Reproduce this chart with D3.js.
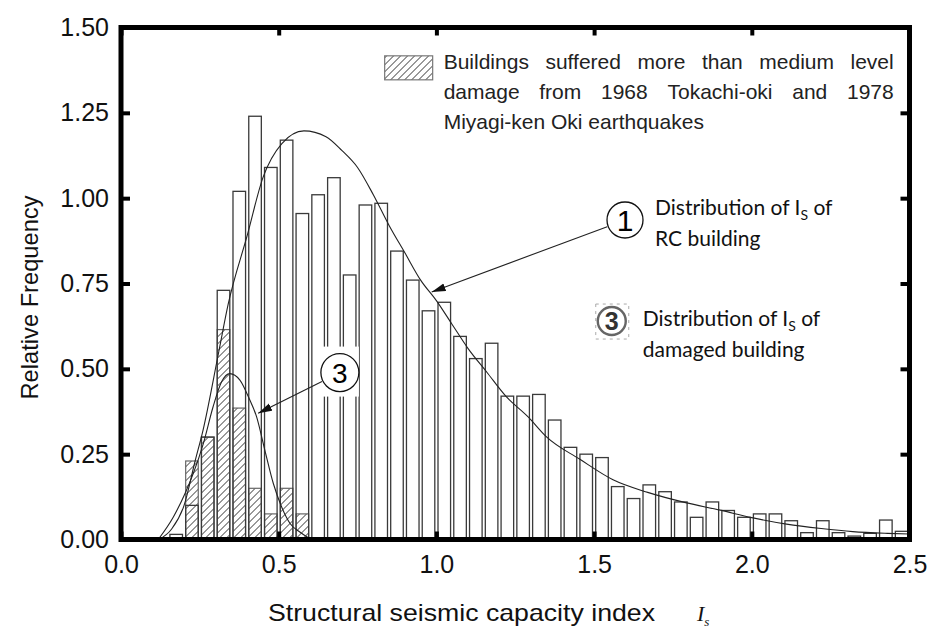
<!DOCTYPE html>
<html>
<head>
<meta charset="utf-8">
<script src="https://cdn.jsdelivr.net/npm/d3@7"></script>
<style>
  body { margin: 0; background: #fff; }
  svg { display: block; }
</style>
</head>
<body>
<svg id="chart" width="932" height="637"></svg>
<script>
// ---- data ----
// left edge of every 0.05-wide bin
var binStart = [0.15, 0.20, 0.25, 0.30, 0.35, 0.40, 0.45, 0.50, 0.55, 0.60,
                0.65, 0.70, 0.75, 0.80, 0.85, 0.90, 0.95, 1.00, 1.05, 1.10,
                1.15, 1.20, 1.25, 1.30, 1.35, 1.40, 1.45, 1.50, 1.55, 1.60,
                1.65, 1.70, 1.75, 1.80, 1.85, 1.90, 1.95, 2.00, 2.05, 2.10,
                2.15, 2.20, 2.25, 2.30, 2.35, 2.40, 2.45];
// relative frequency, all RC buildings (open bars)
var allFreq = [0.015, 0.10, 0.30, 0.73, 1.02, 1.24, 1.09, 1.17, 0.955, 1.01,
               1.06, 0.775, 0.98, 0.985, 0.845, 0.76, 0.67, 0.695, 0.595, 0.53,
               0.575, 0.42, 0.42, 0.425, 0.35, 0.27, 0.25, 0.24, 0.155, 0.12,
               0.16, 0.14, 0.11, 0.065, 0.11, 0.085, 0.065, 0.075, 0.075, 0.055,
               0.02, 0.055, 0.02, 0.01, 0.018, 0.057, 0.024];
// damaged buildings (hatched bars)
var damagedBins = [0.20, 0.25, 0.30, 0.35, 0.40, 0.45, 0.50, 0.55];
var damagedFreq = [0.23, 0.30, 0.615, 0.385, 0.15, 0.075, 0.15, 0.075];

// fitted curve 1 (RC buildings) and curve 3 (damaged buildings)
var curveRC = [[0.12, 0.0], [0.16, 0.03], [0.20, 0.10], [0.235, 0.23], [0.26, 0.32],
               [0.31, 0.55], [0.34, 0.69], [0.40, 0.89], [0.45, 1.06], [0.51, 1.16],
               [0.58, 1.197], [0.65, 1.18], [0.70, 1.14], [0.75, 1.09], [0.80, 1.01],
               [0.85, 0.92], [0.90, 0.84], [0.95, 0.76], [1.00, 0.70], [1.05, 0.63],
               [1.10, 0.56], [1.16, 0.49], [1.22, 0.42], [1.29, 0.36], [1.35, 0.30],
               [1.455, 0.235], [1.56, 0.175], [1.67, 0.138], [1.79, 0.108], [1.90, 0.086],
               [2.00, 0.064], [2.11, 0.045], [2.22, 0.032], [2.32, 0.023], [2.43, 0.018],
               [2.5, 0.016]];
var curveDamaged = [[0.118, 0.0], [0.166, 0.066], [0.203, 0.135], [0.229, 0.193],
                    [0.261, 0.281], [0.292, 0.389], [0.319, 0.462], [0.345, 0.486],
                    [0.377, 0.467], [0.404, 0.418], [0.43, 0.359], [0.456, 0.262],
                    [0.483, 0.164], [0.509, 0.096], [0.536, 0.047], [0.567, 0.022],
                    [0.594, 0.005]];

var xTicks = [0, 0.5, 1.0, 1.5, 2.0, 2.5];
var yTicks = [0, 0.25, 0.5, 0.75, 1.0, 1.25, 1.5];
var binWidth = 0.05;

var legendLines = ["Buildings suffered more than medium level",
                   "damage from 1968 Tokachi-oki and 1978",
                   "Miyagi-ken Oki earthquakes"];

// ---- layout ----
var margin = {top: 27.5, right: 22.5, bottom: 97.5, left: 121},
    width = 932 - margin.left - margin.right,
    height = 637 - margin.top - margin.bottom;

var svgRoot = d3.select("#chart");

var defs = svgRoot.append("defs");
defs.append("pattern")
    .attr("id", "hatch")
    .attr("patternUnits", "userSpaceOnUse")
    .attr("width", 7).attr("height", 7)
  .call(p => {
    p.append("rect").attr("width", 7).attr("height", 7).attr("fill", "#fff");
    p.append("path")
      .attr("d", "M-1,1 L1,-1 M0,7 L7,0 M6,8 L8,6")
      .attr("stroke", "#333").attr("stroke-width", 1);
  });
defs.append("marker")
    .attr("id", "arrow")
    .attr("markerUnits", "userSpaceOnUse")
    .attr("markerWidth", 16).attr("markerHeight", 10)
    .attr("refX", 14).attr("refY", 4)
    .attr("orient", "auto")
  .append("path")
    .attr("d", "M0,0 L14,4 L0,8 Z")
    .attr("fill", "#111");

var svg = svgRoot.append("g")
    .attr("transform", "translate(" + margin.left + "," + margin.top + ")");

var x = d3.scaleLinear().domain([0, 2.5]).range([0, width]);
var y = d3.scaleLinear().domain([0, 1.5]).range([height, 0]);
var inset = 1.6; // gap on each side of a bar

// hatched bars (damaged buildings)
svg.selectAll("rect.damaged")
  .data(damagedBins.map((b, i) => ({b: b, v: damagedFreq[i]})))
  .enter().append("rect")
    .attr("class", "damaged")
    .attr("x", d => x(d.b) + inset)
    .attr("width", d => x(d.b + binWidth) - x(d.b) - 2 * inset)
    .attr("y", d => y(d.v))
    .attr("height", d => y(0) - y(d.v))
    .attr("fill", "url(#hatch)")
    .attr("stroke", "#666").attr("stroke-width", 1.2);

// open bars (all buildings)
svg.selectAll("rect.all")
  .data(binStart.map((b, i) => ({b: b, v: allFreq[i]})))
  .enter().append("rect")
    .attr("class", "all")
    .attr("x", d => x(d.b) + inset)
    .attr("width", d => x(d.b + binWidth) - x(d.b) - 2 * inset)
    .attr("y", d => y(d.v))
    .attr("height", d => y(0) - y(d.v))
    .attr("fill", "none")
    .attr("stroke", "#3a3a3a").attr("stroke-width", 1.3);

// fitted curves
var line = d3.line()
    .x(d => x(d[0]))
    .y(d => y(d[1]))
    .curve(d3.curveMonotoneX);
[curveRC, curveDamaged].forEach(c => {
  svg.append("path")
    .attr("d", line(c))
    .attr("fill", "none")
    .attr("stroke", "#222")
    .attr("stroke-width", 1.1);
});

// circled label 3 inside the plot, with the white gap behind it
var c3 = {x: x(0.694), y: y(0.489)};
svg.append("rect")
    .attr("x", c3.x - 19).attr("y", c3.y - 26)
    .attr("width", 38).attr("height", 50)
    .attr("fill", "#fff");
svg.append("circle")
    .attr("cx", c3.x).attr("cy", c3.y).attr("r", 19)
    .attr("fill", "#fff").attr("stroke", "#111").attr("stroke-width", 1.3);
svg.append("text")
    .attr("x", c3.x).attr("y", c3.y + 10)
    .attr("text-anchor", "middle")
    .style("font", "28px 'Liberation Sans', Arial, sans-serif")
    .text("3");

function arrowFrom(cx, cy, r, tx, ty) {
  var dx = tx - cx, dy = ty - cy, len = Math.sqrt(dx * dx + dy * dy);
  svg.append("line")
    .attr("x1", cx + dx / len * (r + 1)).attr("y1", cy + dy / len * (r + 1))
    .attr("x2", tx).attr("y2", ty)
    .attr("stroke", "#222").attr("stroke-width", 1.1)
    .attr("marker-end", "url(#arrow)");
}
arrowFrom(c3.x, c3.y, 19, x(0.435), y(0.370));

// circled label 1 with its note
var c1 = {x: x(1.598), y: y(0.936)};
svg.append("circle")
    .attr("cx", c1.x).attr("cy", c1.y).attr("r", 18)
    .attr("fill", "#fff").attr("stroke", "#111").attr("stroke-width", 1.3);
svg.append("text")
    .attr("x", c1.x).attr("y", c1.y + 11)
    .attr("text-anchor", "middle")
    .style("font", "30px 'Liberation Sans', Arial, sans-serif")
    .text("1");
arrowFrom(c1.x, c1.y, 18, x(0.985), y(0.725));

function noteText(x0, yb, rest) {
  var t = svg.append("text")
    .attr("x", x0).attr("y", yb)
    .style("font", "21px Lato, 'Open Sans', sans-serif")
    .attr("fill", "#111");
  t.append("tspan").text("Distribution of I");
  t.append("tspan").attr("dy", 5).style("font-size", "14px").text("S");
  t.append("tspan").attr("dy", -5).text(" of");
  svg.append("text")
    .attr("x", x0).attr("y", yb + 31)
    .style("font", "21px Lato, 'Open Sans', sans-serif")
    .attr("fill", "#111")
    .text(rest);
}
noteText(c1.x + 30, c1.y - 5, "RC building");

// icon-like circled 3 with its note
var c3b = {x: x(1.556), y: y(0.640)};
svg.append("rect")
    .attr("x", c3b.x - 16).attr("y", c3b.y - 17)
    .attr("width", 33).attr("height", 35)
    .attr("fill", "none").attr("stroke", "#aaa")
    .attr("stroke-width", 1).attr("stroke-dasharray", "3,4");
svg.append("circle")
    .attr("cx", c3b.x).attr("cy", c3b.y).attr("r", 14)
    .attr("fill", "#fff").attr("stroke", "#666").attr("stroke-width", 2.4);
svg.append("text")
    .attr("x", c3b.x).attr("y", c3b.y + 9)
    .attr("text-anchor", "middle")
    .attr("fill", "#333")
    .style("font", "bold 25px 'Liberation Sans', Arial, sans-serif")
    .text("3");
noteText(c3b.x + 31, c3b.y + 5, "damaged building");

// legend (top right)
var lg = {x: x(0.836), y: y(1.417)};
svg.append("rect")
    .attr("x", lg.x).attr("y", lg.y)
    .attr("width", 48).attr("height", 24)
    .attr("fill", "url(#hatch)")
    .attr("stroke", "#777").attr("stroke-width", 1.2);
var textLeft = lg.x + 59, textRight = x(2.45);
legendLines.forEach((str, i) => {
  var t = svg.append("text")
    .attr("y", lg.y + 13 + i * 30)
    .style("font", "21px 'Liberation Sans', Arial, sans-serif")
    .attr("fill", "#222");
  var words = str.split(" ");
  var spans = words.map(w => t.append("tspan").text(w));
  var widths = spans.map(s => s.node().getComputedTextLength());
  var gap = i < 2 ? (textRight - textLeft - d3.sum(widths)) / (words.length - 1) : 5.8;
  var cx = textLeft;
  spans.forEach((s, j) => { s.attr("x", cx); cx += widths[j] + gap; });
});

// axes: ticks point inward, drawn on all four sides
function styleAxis(g) {
  g.select(".domain").remove();
  g.selectAll(".tick line").attr("stroke", "#000").attr("stroke-width", 4);
  g.selectAll(".tick text")
    .style("font", "25px 'Liberation Sans', Arial, sans-serif")
    .attr("fill", "#111");
}
svg.append("g")
  .attr("transform", "translate(0," + height + ")")
  .call(d3.axisBottom(x).tickValues(xTicks).tickFormat(d3.format(".1f"))
        .tickSize(-8).tickPadding(16).tickSizeOuter(0))
  .call(styleAxis);
svg.append("g")
  .call(d3.axisTop(x).tickValues(xTicks).tickFormat("")
        .tickSize(-8).tickSizeOuter(0))
  .call(styleAxis);
svg.append("g")
  .call(d3.axisLeft(y).tickValues(yTicks).tickFormat(d3.format(".2f"))
        .tickSize(-9).tickPadding(12).tickSizeOuter(0))
  .call(styleAxis);
svg.append("g")
  .attr("transform", "translate(" + width + ",0)")
  .call(d3.axisRight(y).tickValues(yTicks).tickFormat("")
        .tickSize(-9).tickSizeOuter(0))
  .call(styleAxis);

// thick frame
svg.append("rect")
  .attr("x", 0).attr("y", 0)
  .attr("width", width).attr("height", height)
  .attr("fill", "none")
  .attr("stroke", "#000")
  .attr("stroke-width", 5);

// axis titles
svg.append("text")
  .attr("transform", "translate(-83," + (height / 2 + 14) + ") rotate(-90)")
  .attr("text-anchor", "middle")
  .attr("textLength", 204)
  .attr("lengthAdjust", "spacingAndGlyphs")
  .style("font", "24px 'Liberation Sans', Arial, sans-serif")
  .attr("fill", "#111")
  .text("Relative Frequency");

svg.append("text")
  .attr("x", 147).attr("y", height + 81)
  .attr("textLength", 387)
  .attr("lengthAdjust", "spacingAndGlyphs")
  .style("font", "24px 'Liberation Sans', Arial, sans-serif")
  .attr("fill", "#111")
  .text("Structural seismic capacity index");
var xs = svg.append("text")
  .attr("x", 576).attr("y", height + 81)
  .style("font", "italic 22px 'Liberation Serif', 'Times New Roman', serif")
  .attr("fill", "#111");
xs.append("tspan").text("I");
xs.append("tspan").attr("dy", 5).style("font-size", "13px").text("s");
</script>
</body>
</html>
